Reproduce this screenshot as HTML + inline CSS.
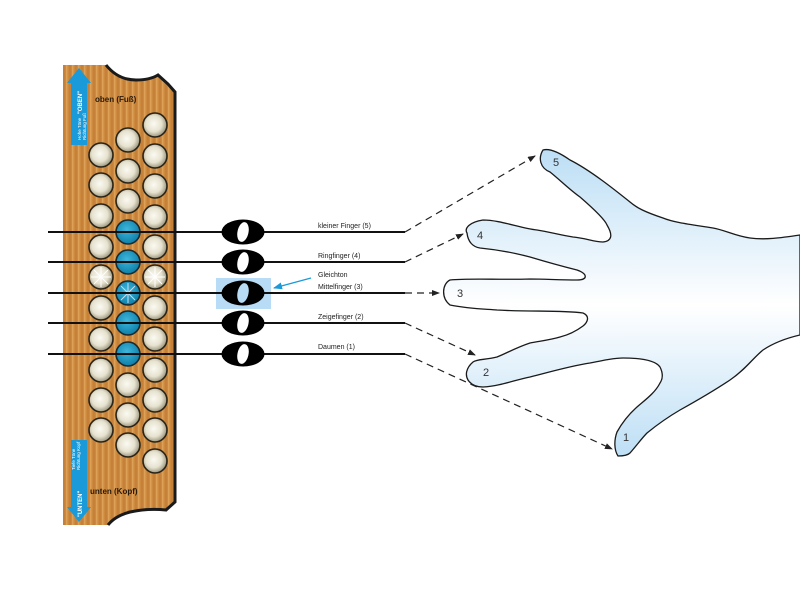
<!DOCTYPE html>
<html><head><meta charset="utf-8"><style>
html,body{margin:0;padding:0;background:#fff;}
svg{display:block;font-family:"Liberation Sans","DejaVu Sans",sans-serif;}
</style></head><body>
<svg width="800" height="608" viewBox="0 0 800 608" xmlns="http://www.w3.org/2000/svg">
<defs>
<pattern id="wood" width="6" height="10" patternUnits="userSpaceOnUse">
<rect width="6" height="10" fill="#cd8a3e"/>
<rect x="0" width="1.5" height="10" fill="#dca057"/>
<rect x="3.5" width="1" height="10" fill="#bd7834"/>
</pattern>
<radialGradient id="btn" cx="0.45" cy="0.45" r="0.6">
<stop offset="0" stop-color="#fbfaf2"/><stop offset="0.55" stop-color="#e6e2cf"/><stop offset="1" stop-color="#8a856c"/>
</radialGradient>
<radialGradient id="bbtn" cx="0.45" cy="0.4" r="0.6">
<stop offset="0" stop-color="#3fb6dc"/><stop offset="1" stop-color="#0d7fa8"/>
</radialGradient>
<linearGradient id="hand" x1="0" y1="150" x2="0" y2="460" gradientUnits="userSpaceOnUse">
<stop offset="0" stop-color="#bcdef5"/><stop offset="0.5" stop-color="#ffffff"/><stop offset="1" stop-color="#bcdef5"/>
</linearGradient>
<marker id="ah" markerWidth="8" markerHeight="6" refX="7" refY="3" orient="auto" markerUnits="userSpaceOnUse">
<path d="M0,0 L8,3 L0,6 Z" fill="#222"/>
</marker>
<marker id="bh" markerWidth="9" markerHeight="7" refX="8" refY="3.5" orient="auto" markerUnits="userSpaceOnUse">
<path d="M0,0 L9,3.5 L0,7 Z" fill="#1a9ad8"/>
</marker>
</defs>

<!-- board -->
<path d="M63,65 L106,65 Q118,80 136,80 Q150,80 158,75 L168,84 L175,92 L175,502 L166,510 Q148,508 130,512 Q115,516 108,525 L63,525 Z" fill="url(#wood)"/>
<path d="M106,65 Q118,80 136,80 Q150,80 158,75 L168,84 L175,92 L175,502 L166,510 Q148,508 130,512 Q115,516 108,525" fill="none" stroke="#1a1a1a" stroke-width="3"/>

<!-- arrows -->
<path d="M79,68 L91,83 L87,83 L87,145 L71,145 L71,83 L67,83 Z" fill="#1a9ad8"/>
<text transform="translate(81,140) rotate(-90)" font-size="4.5" fill="#fff">Hohe Töne</text>
<text transform="translate(86,140) rotate(-90)" font-size="4.5" fill="#fff">Richtung Fuß</text>
<text transform="translate(82,114) rotate(-90)" font-size="6" font-weight="bold" fill="#fff">"OBEN"</text>
<path d="M79,522 L91,507 L87,507 L87,440 L71,440 L71,507 L67,507 Z" fill="#1a9ad8"/>
<text transform="translate(75,470) rotate(-90)" font-size="4.5" fill="#fff">Tiefe Töne</text>
<text transform="translate(80,470) rotate(-90)" font-size="4.5" fill="#fff">Richtung Kopf</text>
<text transform="translate(82,517) rotate(-90)" font-size="6" font-weight="bold" fill="#fff">"UNTEN"</text>

<text x="95" y="102" font-size="8" font-weight="bold" fill="#2a1a0a">oben (Fuß)</text>
<text x="90" y="494" font-size="8" font-weight="bold" fill="#2a1a0a">unten (Kopf)</text>

<!-- buttons -->
<g stroke="#2a2418" stroke-width="1.6" fill="url(#btn)">
<circle cx="101" cy="155" r="12"/><circle cx="101" cy="185" r="12"/><circle cx="101" cy="216" r="12"/><circle cx="101" cy="247" r="12"/><circle cx="101" cy="277" r="12"/><circle cx="101" cy="308" r="12"/><circle cx="101" cy="339" r="12"/><circle cx="101" cy="370" r="12"/><circle cx="101" cy="400" r="12"/><circle cx="101" cy="430" r="12"/>
<circle cx="128" cy="140" r="12"/><circle cx="128" cy="171" r="12"/><circle cx="128" cy="201" r="12"/><circle cx="128" cy="385" r="12"/><circle cx="128" cy="415" r="12"/><circle cx="128" cy="445" r="12"/>
<circle cx="155" cy="125" r="12"/><circle cx="155" cy="156" r="12"/><circle cx="155" cy="186" r="12"/><circle cx="155" cy="217" r="12"/><circle cx="155" cy="247" r="12"/><circle cx="155" cy="277" r="12"/><circle cx="155" cy="308" r="12"/><circle cx="155" cy="339" r="12"/><circle cx="155" cy="370" r="12"/><circle cx="155" cy="400" r="12"/><circle cx="155" cy="430" r="12"/><circle cx="155" cy="461" r="12"/>
</g>
<g stroke="#1a2a30" stroke-width="1.6" fill="url(#bbtn)">
<circle cx="128" cy="232" r="12"/><circle cx="128" cy="262" r="12"/><circle cx="128" cy="293" r="12"/><circle cx="128" cy="323" r="12"/><circle cx="128" cy="354" r="12"/>
</g>
<g stroke="#fff" stroke-width="1">
<path d="M91,277 H111 M101,267 V287 M94,270 L108,284 M108,270 L94,284"/>
<path d="M145,277 H165 M155,267 V287 M148,270 L162,284 M162,270 L148,284"/>
<path d="M118,293 H138 M128,283 V303 M121,286 L135,300 M135,286 L121,300" stroke="#cde"/>
</g>

<!-- staff lines -->
<rect x="216" y="278" width="55" height="31" fill="#b8dcf5"/>
<g stroke="#111" stroke-width="2">
<line x1="48" y1="232" x2="405" y2="232"/><line x1="48" y1="262" x2="405" y2="262"/><line x1="48" y1="293" x2="405" y2="293"/><line x1="48" y1="323" x2="405" y2="323"/><line x1="48" y1="354" x2="405" y2="354"/>
</g>
<!-- notes -->
<g>
<g transform="translate(243,232)"><ellipse rx="21.5" ry="12.5" fill="#000"/><ellipse rx="5.5" ry="10" transform="rotate(12)" fill="#fff"/></g>
<g transform="translate(243,262)"><ellipse rx="21.5" ry="12.5" fill="#000"/><ellipse rx="5.5" ry="10" transform="rotate(12)" fill="#fff"/></g>
<g transform="translate(243,293)"><ellipse rx="21.5" ry="12.5" fill="#000"/><ellipse rx="5.5" ry="10" transform="rotate(12)" fill="#b8dcf5"/></g>
<g transform="translate(243,323)"><ellipse rx="21.5" ry="12.5" fill="#000"/><ellipse rx="5.5" ry="10" transform="rotate(12)" fill="#fff"/></g>
<g transform="translate(243,354)"><ellipse rx="21.5" ry="12.5" fill="#000"/><ellipse rx="5.5" ry="10" transform="rotate(12)" fill="#fff"/></g>
</g>
<line x1="311" y1="278" x2="274" y2="288" stroke="#1a9ad8" stroke-width="1.2" marker-end="url(#bh)"/>

<g font-size="7" fill="#222">
<text x="318" y="228">kleiner Finger (5)</text>
<text x="318" y="258">Ringfinger (4)</text>
<text x="318" y="277">Gleichton</text>
<text x="318" y="289">Mittelfinger (3)</text>
<text x="318" y="319">Zeigefinger (2)</text>
<text x="318" y="349">Daumen (1)</text>
</g>

<!-- hand -->
<path d="M800,235 C780,238 765,240 750,238 C735,236 725,230 713,228 C695,225 675,223 663,218 C645,212 637,208 630,202 C615,190 590,170 570,160 C560,153 550,148 543,150 C538,158 540,168 550,172 C560,180 570,190 580,197 C595,210 605,220 607,225 C613,235 612,241 603,242 C595,242 585,238 573,237 C560,235 550,232 537,230 C520,228 500,220 483,220 C470,222 464,228 467,233 C468,242 473,247 480,248 C500,250 515,253 530,257 C550,263 565,267 577,270 C588,274 588,280 577,280 C560,280 545,279 530,279 C500,280 470,278 450,280 C442,284 441,298 450,305 C470,309 485,309 497,310 C530,312 560,310 583,313 C590,316 588,322 583,326 C575,332 568,335 560,337 C550,340 540,341 530,343 C515,348 505,354 497,357 C485,360 477,359 473,362 C466,368 465,375 468,380 C472,386 478,387 483,387 C500,386 515,380 530,377 C550,372 570,366 590,363 C605,360 615,358 623,358 C640,358 655,360 660,367 C664,375 662,380 660,383 C655,393 645,400 637,407 C628,415 622,423 617,432 C614,440 614,450 618,456 C624,456 628,455 630,453 C637,445 642,438 647,433 C658,424 668,417 680,410 C698,400 715,390 730,380 C745,370 753,358 763,350 C775,342 787,338 800,335 Z" fill="url(#hand)" stroke="#1a1a1a" stroke-width="1.3"/>
<g font-size="11" fill="#333">
<text x="553" y="166">5</text><text x="477" y="239">4</text><text x="457" y="297">3</text><text x="483" y="376">2</text><text x="623" y="441">1</text>
</g>

<!-- dashed connectors -->
<g stroke="#222" stroke-width="1.2" stroke-dasharray="7,5" fill="none">
<line x1="405" y1="232" x2="535" y2="156" marker-end="url(#ah)"/>
<line x1="405" y1="262" x2="463" y2="234" marker-end="url(#ah)"/>
<line x1="405" y1="293" x2="439" y2="293" marker-end="url(#ah)"/>
<line x1="405" y1="323" x2="475" y2="355" marker-end="url(#ah)"/>
<line x1="405" y1="354" x2="612" y2="449" marker-end="url(#ah)"/>
</g>
</svg>
</body></html>
